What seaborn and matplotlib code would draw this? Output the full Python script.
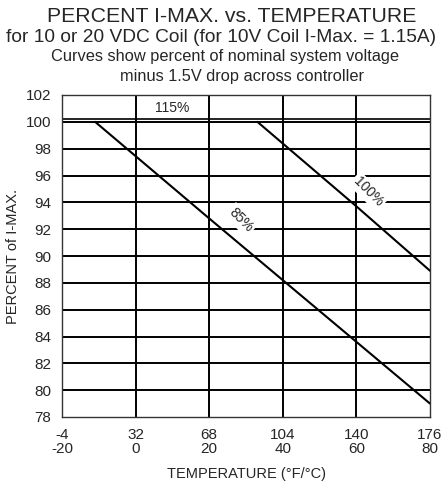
import matplotlib
matplotlib.use("Agg")
import matplotlib.pyplot as plt
import numpy as np
import pandas as pd
import seaborn as sns

# curves (temperature in deg C, percent of I-MAX)
temp_85 = [-11.0, 20.0, 40.0, 80.0]
pct_85 = [100.0, 92.8, 88.2, 79.0]
temp_100 = [33.1, 60.0, 80.0]
pct_100 = [100.0, 93.7, 88.9]

temp_c_ticks = [-20, 0, 20, 40, 60, 80]
temp_f_ticks = [-4, 32, 68, 104, 140, 176]
pct_ticks = list(range(78, 103, 2))

df = pd.concat([
    pd.DataFrame({"temp": temp_85, "pct": pct_85, "curve": "85%"}),
    pd.DataFrame({"temp": temp_100, "pct": pct_100, "curve": "100%"}),
])

sns.set_style("white")
plt.rcParams["font.family"] = ["Liberation Sans", "DejaVu Sans"]

fig = plt.figure(figsize=(4.42, 4.82), dpi=100)
ax = fig.add_axes([62 / 442, 1 - 417 / 482, 368 / 442, 322 / 482])

# grid first so the curves sit on top
for t in temp_c_ticks[1:-1]:
    ax.axvline(t, color="black", lw=1.4, zorder=1)
for p in pct_ticks[1:-1]:
    ax.axhline(p, color="black", lw=1.4, zorder=1)
ax.axhline(100.2, color="black", lw=1.2, zorder=1)

sns.lineplot(data=df, x="temp", y="pct", hue="curve", units="curve",
             estimator=None, palette=["black", "black"], lw=1.5,
             sort=False, legend=False, ax=ax, zorder=3)

ax.set_xlim(-20, 80)
ax.set_ylim(78, 102)
ax.set_xticks(temp_c_ticks)
ax.set_xticklabels([f"{f}\n{c}" for f, c in zip(temp_f_ticks, temp_c_ticks)],
                   fontsize=11, linespacing=1.0)
ax.set_yticks(pct_ticks)
ax.set_yticklabels([str(p) for p in pct_ticks], fontsize=11)
ax.tick_params(length=0, pad=8)
for s in ax.spines.values():
    s.set_color("#333333")
    s.set_linewidth(1.0)

ax.set_xlabel("TEMPERATURE (°F/°C)", fontsize=10.5, labelpad=8)
ax.set_ylabel("PERCENT of I-MAX.", fontsize=10.5, labelpad=4)

# curve labels
ax.text(10, 101.05, "115%", ha="center", va="center", fontsize=10, zorder=4)
box = dict(facecolor="white", edgecolor="none", pad=1.5)
ax.text(63.2, 94.8, "100%", ha="center", va="center", fontsize=10,
        rotation=-45, bbox=box, zorder=2)
ax.text(28.6, 92.7, "85%", ha="center", va="center", fontsize=10,
        rotation=-45, bbox=box, zorder=2)

# titles
fig.text(232 / 442, 1 - 16 / 482, "PERCENT I-MAX. vs. TEMPERATURE",
         ha="center", va="center", fontsize=15.3)
fig.text(221 / 442, 1 - 38 / 482, "for 10 or 20 VDC Coil (for 10V Coil I-Max. = 1.15A)",
         ha="center", va="center", fontsize=13.8)
fig.text(225 / 442, 1 - 57 / 482, "Curves show percent of nominal system voltage",
         ha="center", va="center", fontsize=11.8)
fig.text(242 / 442, 1 - 76 / 482, "minus 1.5V drop across controller",
         ha="center", va="center", fontsize=11.8)

plt.savefig("out.png", dpi=100)
